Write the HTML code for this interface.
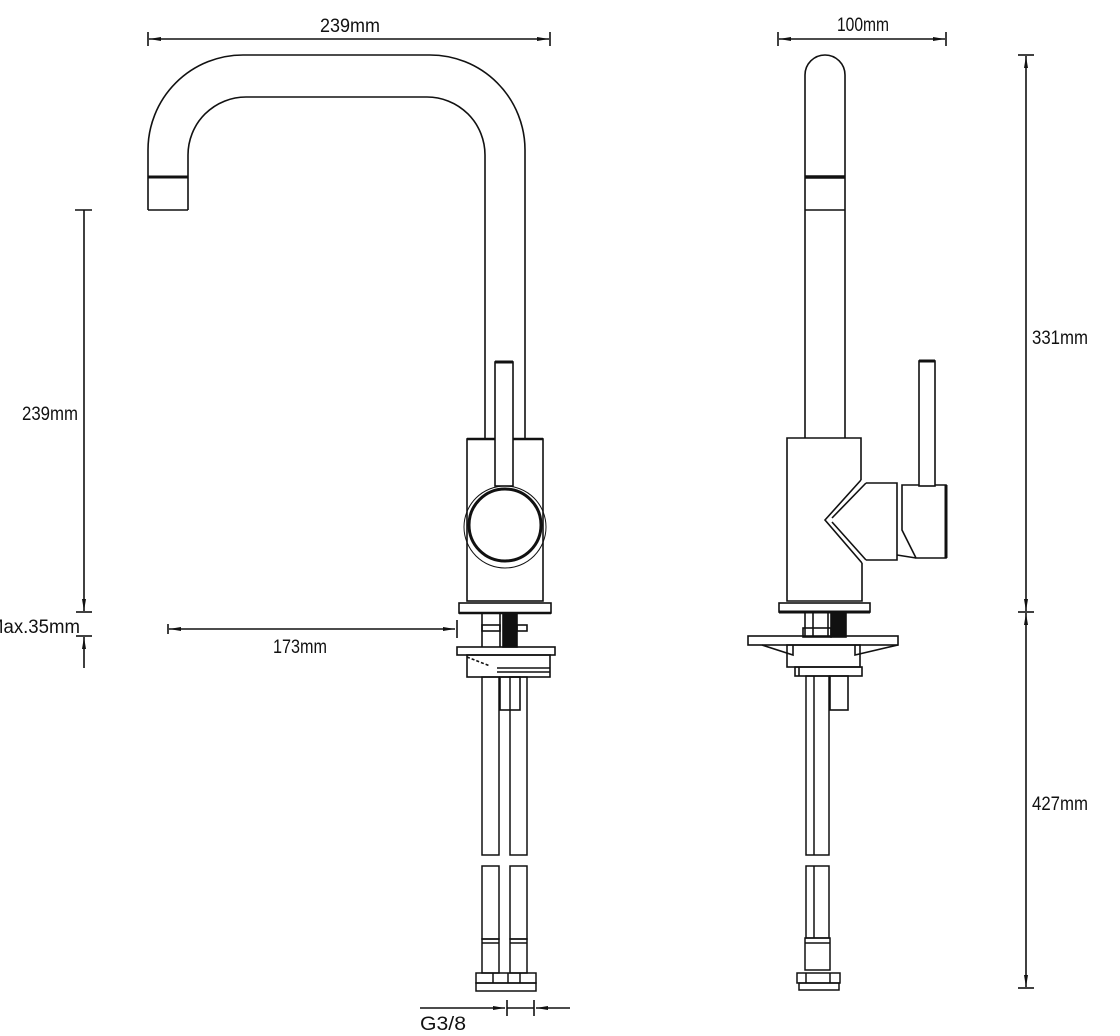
<!DOCTYPE html>
<html><head><meta charset="utf-8"><style>
html,body{margin:0;padding:0;background:#fff;}
svg{display:block}
text{font-family:"Liberation Sans Narrow","Liberation Sans",sans-serif;font-size:19px;fill:#111}
</style></head><body>
<svg width="1120" height="1036" viewBox="0 0 1120 1036" xmlns="http://www.w3.org/2000/svg">
<defs>
<marker id="a" markerWidth="12" markerHeight="6" refX="12" refY="3" orient="auto" markerUnits="userSpaceOnUse"><path d="M0,1 L12,3 L0,5 Z" fill="#111"/></marker>
</defs>
<g fill="none" stroke="#111" stroke-width="1.6">
<!-- LEFT VIEW -->
<!-- top dim -->
<line x1="148" y1="32" x2="148" y2="46"/><line x1="550" y1="32" x2="550" y2="46"/>
<line x1="350" y1="39" x2="149" y2="39" marker-end="url(#a)"/>
<line x1="350" y1="39" x2="549" y2="39" marker-end="url(#a)"/>
<!-- spout -->
<path d="M148,210 V150 A95,95 0 0 1 243,55 H430 A95,95 0 0 1 525,150 V440"/>
<path d="M188,210 V155 A58,58 0 0 1 246,97 H427 A58,58 0 0 1 485,155 V440"/>
<path d="M148,210 H188"/>
<line x1="148" y1="177" x2="188" y2="177" stroke-width="3"/>
<!-- body -->
<rect x="467" y="439" width="76" height="162"/>
<line x1="467" y1="439" x2="543" y2="439" stroke-width="2.5"/>
<circle cx="505" cy="527" r="41" stroke-width="1"/>
<circle cx="505" cy="525" r="36" stroke-width="3"/>
<rect x="495" y="362" width="18" height="124" fill="#fff"/>
<line x1="495" y1="362" x2="513" y2="362" stroke-width="3"/>
<rect x="459" y="603" width="92" height="10"/>
<line x1="459" y1="613" x2="551" y2="613" stroke-width="2.5"/>
<!-- studs -->
<line x1="482" y1="613" x2="482" y2="647"/><line x1="500" y1="613" x2="500" y2="647"/>
<rect x="482" y="625" width="18" height="6"/>
<rect x="503" y="613" width="14" height="34" fill="#111"/>
<rect x="517" y="625" width="10" height="6"/>
<rect x="457" y="647" width="98" height="8"/>
<rect x="467" y="655" width="83" height="22"/>
<line x1="497" y1="668" x2="550" y2="668"/><line x1="497" y1="672" x2="550" y2="672"/>
<path d="M467,657 L490,666" stroke-dasharray="3,2"/>
<rect x="500" y="677" width="20" height="33"/>
<!-- hoses left -->
<g stroke-width="1.5">
<rect x="482" y="677" width="17" height="178"/>
<rect x="510" y="677" width="17" height="178"/>
<rect x="482" y="866" width="17" height="73"/>
<rect x="510" y="866" width="17" height="73"/>
<rect x="482" y="939" width="17" height="34"/>
<rect x="510" y="939" width="17" height="34"/>
<line x1="482" y1="943" x2="499" y2="943"/><line x1="510" y1="943" x2="527" y2="943"/>
<rect x="476" y="973" width="60" height="10"/>
<rect x="476" y="983" width="60" height="8"/>
<line x1="493" y1="973" x2="493" y2="983"/><line x1="508" y1="973" x2="508" y2="983"/><line x1="520" y1="973" x2="520" y2="983"/>
</g>
<!-- vertical 239 dim -->
<line x1="75" y1="210" x2="92" y2="210"/>
<line x1="84" y1="210" x2="84" y2="611" marker-end="url(#a)"/>
<line x1="76" y1="612" x2="92" y2="612"/>
<line x1="76" y1="636" x2="92" y2="636"/>
<line x1="84" y1="668" x2="84" y2="637" marker-end="url(#a)"/>
<!-- 173 -->
<line x1="168" y1="624" x2="168" y2="634"/>
<line x1="300" y1="629" x2="169" y2="629" marker-end="url(#a)"/>
<line x1="300" y1="629" x2="455" y2="629" marker-end="url(#a)"/>
<line x1="457" y1="620" x2="457" y2="638"/>
<!-- G3/8 -->
<line x1="420" y1="1008" x2="505" y2="1008" marker-end="url(#a)"/>
<line x1="507" y1="1000" x2="507" y2="1016"/><line x1="534" y1="1000" x2="534" y2="1016"/>
<line x1="507" y1="1008" x2="534" y2="1008"/>
<line x1="570" y1="1008" x2="536" y2="1008" marker-end="url(#a)"/>

<!-- RIGHT VIEW -->
<line x1="778" y1="32" x2="778" y2="46"/><line x1="946" y1="32" x2="946" y2="46"/>
<line x1="862" y1="39" x2="779" y2="39" marker-end="url(#a)"/>
<line x1="862" y1="39" x2="945" y2="39" marker-end="url(#a)"/>
<path d="M805,438 V75 A20,20 0 0 1 845,75 V438"/>
<line x1="805" y1="177" x2="845" y2="177" stroke-width="3.5"/>
<line x1="805" y1="210" x2="845" y2="210"/>
<path d="M861,480 V438 H787 V601 H862 V563"/>
<path d="M861,480 L825,520 L862,563"/>
<path d="M866,483 L832,518"/><path d="M832,522 L866,560"/>
<path d="M866,483 H897 V560 H866"/>
<path d="M902,485 H946 V558 H916 L902,530 Z"/>
<line x1="946" y1="485" x2="946" y2="558" stroke-width="3"/>
<path d="M897,555 L916,558"/>
<rect x="919" y="361" width="16" height="125" fill="#fff"/>
<line x1="919" y1="361" x2="935" y2="361" stroke-width="3"/>
<rect x="779" y="603" width="91" height="9"/>
<line x1="779" y1="612" x2="870" y2="612" stroke-width="3"/>
<line x1="805" y1="612" x2="805" y2="637"/><line x1="813" y1="612" x2="813" y2="637"/><line x1="828" y1="612" x2="828" y2="637"/>
<rect x="803" y="628" width="28" height="9"/>
<rect x="831" y="612" width="15" height="25" fill="#111"/>
<rect x="748" y="636" width="150" height="9"/>
<path d="M762,645 L793,655 V645"/><path d="M898,645 L855,655 V645"/>
<rect x="787" y="645" width="73" height="22"/>
<rect x="795" y="667" width="67" height="9"/>
<line x1="799" y1="667" x2="799" y2="676"/>
<rect x="830" y="676" width="18" height="34"/>
<g stroke-width="1.5">
<rect x="806" y="676" width="23" height="179"/>
<line x1="814" y1="676" x2="814" y2="855"/>
<rect x="806" y="866" width="23" height="72"/>
<line x1="814" y1="866" x2="814" y2="938"/>
<rect x="805" y="938" width="25" height="32"/>
<line x1="805" y1="943" x2="830" y2="943"/>
<rect x="797" y="973" width="43" height="10"/>
<rect x="799" y="983" width="40" height="7"/>
<line x1="806" y1="973" x2="806" y2="983"/><line x1="830" y1="973" x2="830" y2="983"/>
</g>
<!-- 331 / 427 -->
<line x1="1018" y1="55" x2="1034" y2="55"/>
<line x1="1026" y1="330" x2="1026" y2="56" marker-end="url(#a)"/>
<line x1="1026" y1="330" x2="1026" y2="611" marker-end="url(#a)"/>
<line x1="1018" y1="612" x2="1034" y2="612"/>
<line x1="1026" y1="800" x2="1026" y2="613" marker-end="url(#a)"/>
<line x1="1026" y1="800" x2="1026" y2="987" marker-end="url(#a)"/>
<line x1="1018" y1="988" x2="1034" y2="988"/>
</g>
<g>
<text x="320" y="32" textLength="60" lengthAdjust="spacingAndGlyphs">239mm</text>
<text x="837" y="31" textLength="52" lengthAdjust="spacingAndGlyphs">100mm</text>
<text x="22" y="420" textLength="56" lengthAdjust="spacingAndGlyphs">239mm</text>
<text x="-12" y="633" textLength="92" lengthAdjust="spacingAndGlyphs">Max.35mm</text>
<text x="273" y="653" textLength="54" lengthAdjust="spacingAndGlyphs">173mm</text>
<text x="420" y="1030" textLength="46" lengthAdjust="spacingAndGlyphs">G3/8</text>
<text x="1032" y="344" textLength="56" lengthAdjust="spacingAndGlyphs">331mm</text>
<text x="1032" y="810" textLength="56" lengthAdjust="spacingAndGlyphs">427mm</text>
</g>
</svg>
</body></html>
